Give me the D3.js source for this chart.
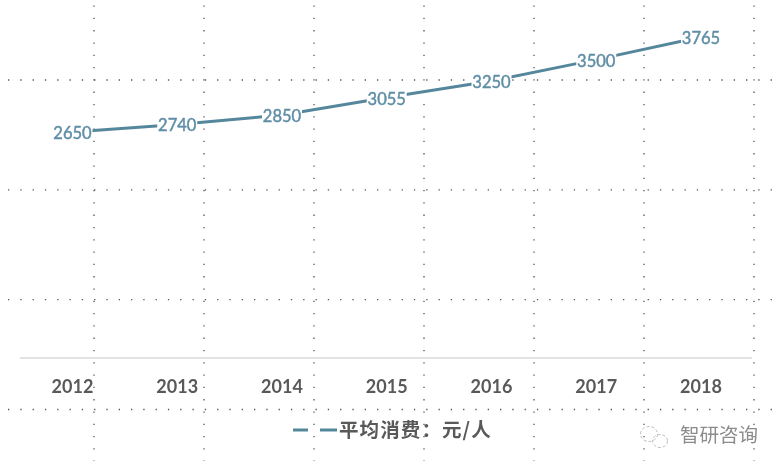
<!DOCTYPE html>
<html><head><meta charset="utf-8">
<script src="https://cdn.jsdelivr.net/npm/d3@7"></script>
<style>html,body{margin:0;padding:0;background:#fff}svg{display:block;filter:blur(0.35px)}</style>
</head><body><svg id="c" width="773" height="461"></svg>
<script>
const years = ["2012","2013","2014","2015","2016","2017","2018"];
const values = [2650,2740,2850,3055,3250,3500,3765];
const seriesName = "平均消费：元/人";
const watermark = "智研咨询";
const gridColumns = [0,1,2,3,4,5,6];
const gridRows = [0,1,2,3];

const W = 773, H = 461;
const svg = d3.select("#c");
const x = d3.scalePoint().domain(years).range([72.5,701]);
const y = d3.scaleLinear().domain([0,4000]).range([358,17]);
const gx = d3.scaleLinear().domain([0,6]).range([94,754]);
const gy = d3.scaleLinear().domain([0,3]).range([80,409.5]);

const grid = svg.append("g").attr("stroke","#555").attr("stroke-width",1.3).attr("stroke-dasharray","1.3 11");
grid.selectAll(".v").data(gridColumns).join("line").attr("class","v")
  .attr("x1",d=>gx(d)).attr("x2",d=>gx(d)).attr("y1",5.5).attr("y2",H);
grid.selectAll(".h").data(gridRows).join("line").attr("class","h")
  .attr("x1",8).attr("x2",W).attr("y1",d=>gy(d)).attr("y2",d=>gy(d));

svg.append("line").attr("x1",20).attr("x2",752).attr("y1",358).attr("y2",358)
  .attr("stroke","#d9d9d9").attr("stroke-width",1.5);

const line = d3.line().x((d,i)=>x(years[i])).y(d=>y(d));
svg.append("path").datum(values).attr("d",line).attr("fill","none")
  .attr("stroke","#55879c").attr("stroke-width",3).attr("stroke-linecap","round");

const lab = svg.append("g").attr("font-family","Lato, sans-serif").attr("font-size",16.5).attr("text-anchor","middle");
lab.selectAll("rect").data(values).join("rect")
  .attr("x",(d,i)=>x(years[i])-20).attr("y",d=>y(d)-9).attr("width",40).attr("height",17).attr("fill","#fff");
lab.selectAll("text").data(values).join("text")
  .attr("x",(d,i)=>x(years[i])).attr("y",d=>y(d)+7)
  .attr("fill","#5f8ea6").attr("stroke","#5f8ea6").attr("stroke-width",0.45).text(d=>d);

svg.append("g").attr("font-family","Lato, sans-serif").attr("font-weight",700).attr("font-size",18).attr("text-anchor","middle")
  .selectAll("text").data(years).join("text")
  .attr("x",d=>x(d)).attr("y",393).attr("fill","#595959").text(d=>d);

const leg = svg.append("g");
leg.append("line").attr("x1",293).attr("x2",337).attr("y1",430).attr("y2",430)
  .attr("stroke","#55879c").attr("stroke-width",3);
leg.append("rect").attr("x",308).attr("y",426).attr("width",12).attr("height",8).attr("fill","#fff");
leg.append("text").attr("x",339).attr("y",437).attr("font-family","'Noto Sans CJK SC'")
  .attr("font-size",19.5).attr("letter-spacing",1.1).attr("font-weight",700).attr("fill","#595959").text(seriesName);

const wm = svg.append("g").attr("fill","none").attr("stroke","#bbb").attr("stroke-width",1).attr("stroke-dasharray","3 2");
wm.append("ellipse").attr("cx",649).attr("cy",434).attr("rx",8.5).attr("ry",7.5);
wm.append("ellipse").attr("cx",660).attr("cy",441).attr("rx",7.5).attr("ry",6.5);
svg.append("text").attr("x",680).attr("y",442).attr("font-family","'Noto Sans CJK SC'")
  .attr("font-size",19.5).attr("fill","#8c8c8c").text(watermark);
</script></body></html>
